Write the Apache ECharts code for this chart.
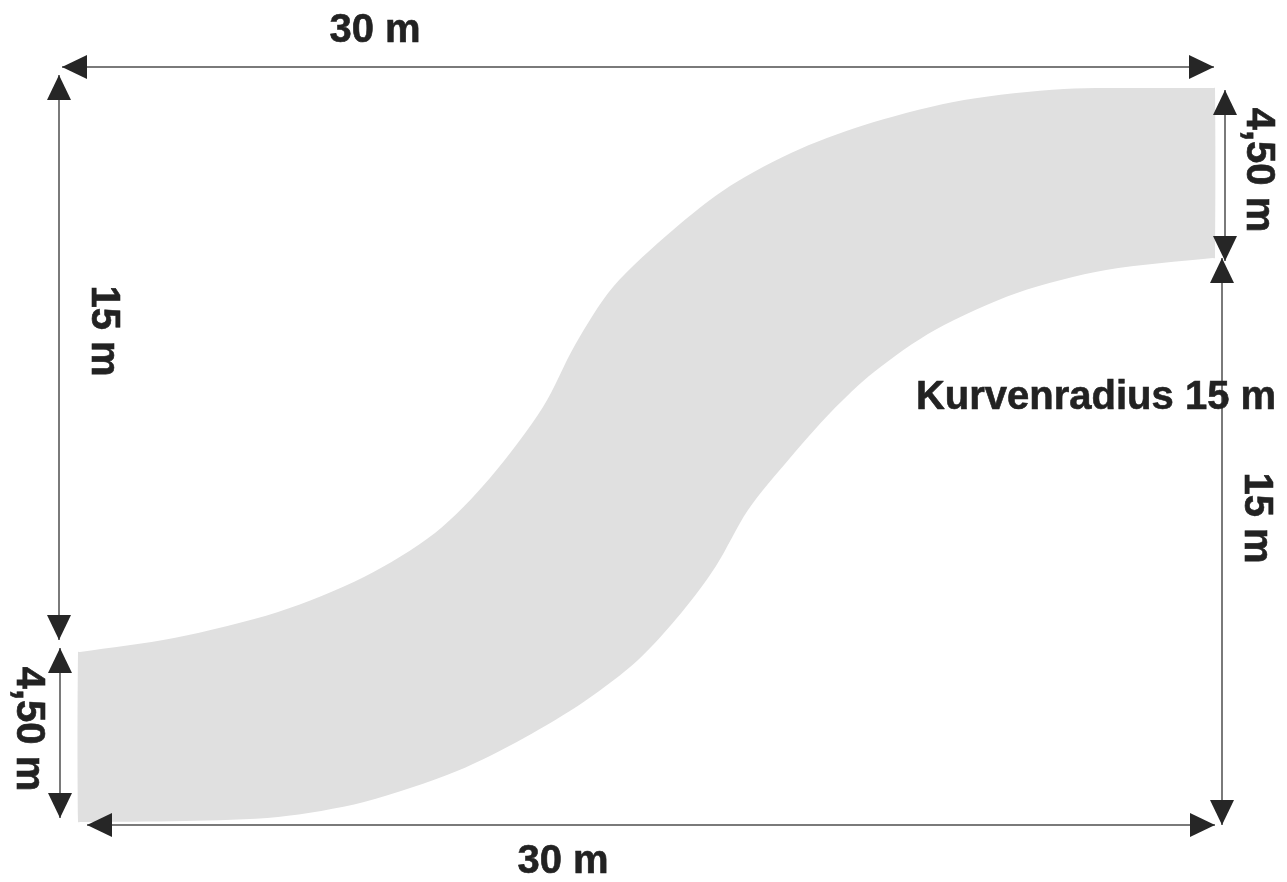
<!DOCTYPE html>
<html><head><meta charset="utf-8">
<style>html,body{margin:0;padding:0;background:#fff}#c{width:1287px;height:882px}</style>
<script src="https://cdn.jsdelivr.net/npm/echarts@6/dist/echarts.min.js"></script>
</head><body><div id="c"></div>
<script>
// Road outline, in image units
const upperEdge = [[1215,88],[1213,88],[1140,88],[1064,89],[964,100],[874,122],[800,149],[730,186],[673,230],[613,287],[575,345],[543,407],[490,478],[435,533],[364,577],[278,612],[174,638],[80,652],[78,652]];
const lowerEdge = [[78,822],[80,822],[185,821],[278,817],[364,802],[457,771],[524,738],[585,701],[638,660],[682,612],[716,566],[748,510],[790,458],[831,412],[874,372],[935,330],[1017,293],[1106,270],[1213,258],[1215,258]];
// Dimension arrows: tip-to-tip
const dimStart = [[62,67],[87,825],[59,75],[60,648],[1225,90],[1222,258]];
const dimEnd   = [[1214,67],[1215,825],[59,640],[60,818],[1225,261],[1222,825]];
// Labels
const labelTexts = ['30 m','30 m','15 m','15 m','4,50 m','4,50 m','Kurvenradius 15 m'];
const labelX = [375,563,103,1256,28,1258,1096];
const labelY = [31,862,331,518,729,170,398];
const labelVertical = [false,false,true,true,true,true,false];

const outline = upperEdge.concat(lowerEdge);
const chart = echarts.init(document.getElementById('c'), null, {renderer:'canvas'});
const headLen = 25, headHalf = 12;

chart.setOption({
  animation:false,
  backgroundColor:'#fff',
  grid:{left:0,right:0,top:0,bottom:0},
  xAxis:{type:'value',min:0,max:1287,show:false},
  yAxis:{type:'value',min:0,max:882,inverse:true,show:false},
  series:[
    {type:'custom',coordinateSystem:'cartesian2d',silent:true,z:1,
     data:outline,
     encode:{x:0,y:1},
     renderItem(params,api){
       if(params.dataIndex!==0) return null;
       return {type:'polygon',shape:{points:outline.map(p=>api.coord(p)),smooth:0.3},style:{fill:'#e0e0e0',stroke:null}};
     }},
    {type:'custom',coordinateSystem:'cartesian2d',silent:true,z:2,
     data:dimStart.map((s,i)=>[s[0],s[1],dimEnd[i][0],dimEnd[i][1]]),
     encode:{x:[0,2],y:[1,3]},
     renderItem(params,api){
       const a=api.coord([api.value(0),api.value(1)]), b=api.coord([api.value(2),api.value(3)]);
       const dx=b[0]-a[0], dy=b[1]-a[1], L=Math.hypot(dx,dy), ux=dx/L, uy=dy/L;
       const head=(t,sx,sy)=>({type:'polygon',shape:{points:[
         t,
         [t[0]+sx*headLen-uy*headHalf,t[1]+sy*headLen+ux*headHalf],
         [t[0]+sx*headLen+uy*headHalf,t[1]+sy*headLen-ux*headHalf]
       ]},style:{fill:'#262626'}});
       return {type:'group',children:[
         {type:'line',shape:{x1:a[0],y1:a[1],x2:b[0],y2:b[1]},style:{stroke:'#7a7a7a',lineWidth:2}},
         head(a,ux,uy),
         head(b,-ux,-uy)
       ]};
     }},
    {type:'custom',coordinateSystem:'cartesian2d',silent:true,z:3,
     data:labelTexts.map((t,i)=>[labelX[i],labelY[i],t,labelVertical[i]?1:0]),
     encode:{x:0,y:1},
     renderItem(params,api){
       const p=api.coord([api.value(0),api.value(1)]);
       return {type:'text',x:p[0],y:p[1],rotation:api.value(3)?-Math.PI/2:0,
         style:{text:labelTexts[params.dataIndex],fontFamily:'"Liberation Sans",Arial,sans-serif',fontWeight:'bold',fontSize:40,fill:'#222',stroke:'#222',lineWidth:0.6,align:'center',verticalAlign:'middle'}};
     }}
  ]
});
</script></body></html>
